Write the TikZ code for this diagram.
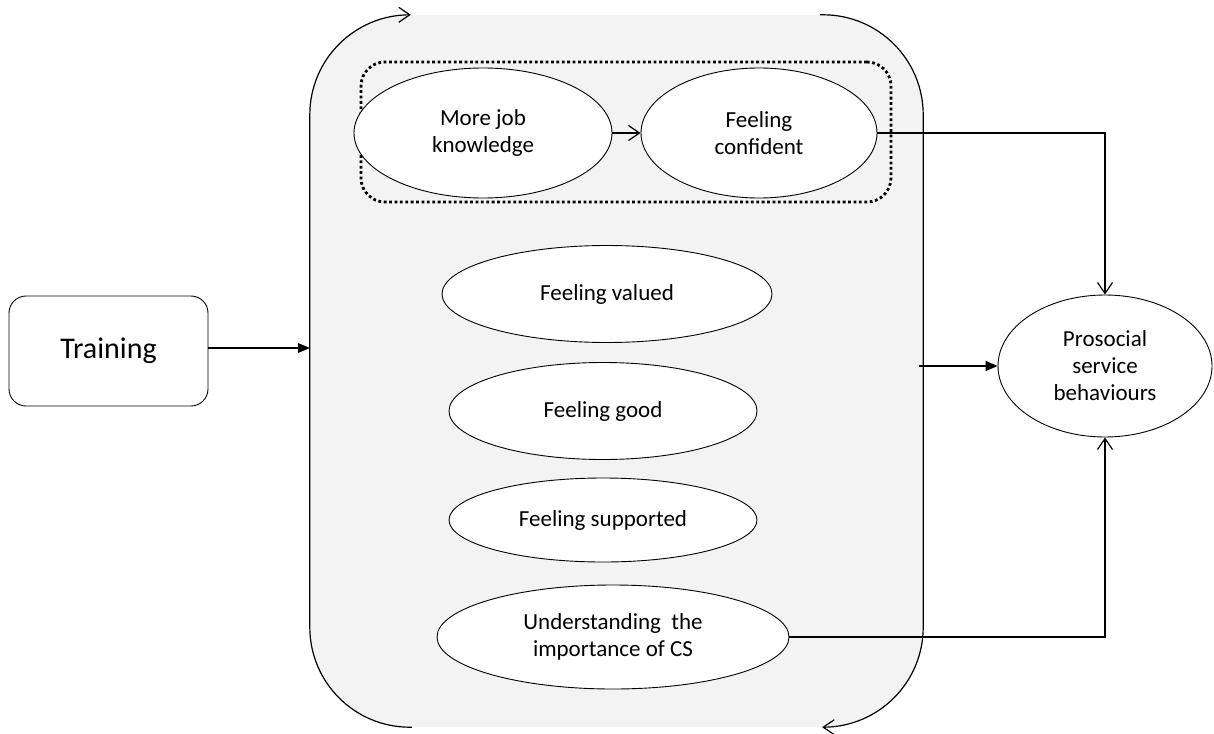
\documentclass[tikz,border=0pt]{standalone}
\usepackage{fontspec}
\setmainfont{Carlito}
\usetikzlibrary{arrows.meta,shapes.geometric}
\definecolor{boxgray}{RGB}{243,243,243}
\tikzset{
  bubble/.style={ellipse, draw=black, fill=white, line width=0.9pt, inner sep=0pt, align=center,
    font=\fontsize{23}{27}\selectfont},
  conn/.style={draw=black, line width=1.2pt},
  openarrow/.style={conn, -{Straight Barb[length=11pt,width=15pt,line width=1.2pt]}},
  fillarrow/.style={conn, -{Triangle[length=12pt,width=10pt]}},
  groupbox/.style={draw=black, line width=2.8pt, dash pattern=on 2.8pt off 2.6pt, rounded corners=24pt, inner sep=0pt},
}
\begin{document}
\begin{tikzpicture}[x=1pt,y=-1pt]
\useasboundingbox (0,0) rectangle (1214,733);
% big container
\node[fill=boxgray, rounded corners=100pt, minimum width=613pt, minimum height=712pt, inner sep=0pt] (big) at (616.5,371) {};
\draw[openarrow, rounded corners=100pt] ([xshift=102pt]big.south west) -| (big.north west) -- ([xshift=101pt]big.north west);
\draw[openarrow, rounded corners=100pt] ([xshift=-103pt]big.north east) -| (big.south east) -- ([xshift=-101pt]big.south east);
% group box
\node[groupbox, minimum width=530pt, minimum height=140pt] (grp) at (626,132) {};
% ellipses
\node[bubble, minimum width=258pt, minimum height=130pt] (mjk) at (483,133) {More job\\knowledge};
\node[bubble, minimum width=236pt, minimum height=130pt] (fc) at (759,133) {Feeling\\confident};
\node[bubble, minimum width=330pt, minimum height=97pt] (fv) at (607,294) {Feeling valued};
\node[bubble, minimum width=308pt, minimum height=97pt] (fg) at (603,411) {Feeling good};
\node[bubble, minimum width=308pt, minimum height=84pt] (fs) at (603,520) {Feeling supported};
\node[bubble, minimum width=352pt, minimum height=104pt] (us) at (613,637) {Understanding~ the\\importance of CS};
\node[bubble, minimum width=214pt, minimum height=142pt] (ps) at (1105,366) {Prosocial\\service\\behaviours};
% training
\node[draw=black, line width=0.9pt, rounded corners=17pt, minimum width=199pt, minimum height=110pt, inner sep=0pt,
  font=\fontsize{30}{36}\selectfont] (tr) at (108.5,351) {Training};
% connectors
\draw[openarrow] (mjk.east) -- (fc.west);
\draw[openarrow] (fc.east) -| (ps.north);
\draw[openarrow] (us.east) -| (ps.south);
\draw[fillarrow] ([yshift=3pt]tr.east) -- ([yshift=3pt]tr.east -| big.west);
\draw[fillarrow] ([xshift=-4pt]ps.west -| big.east) -- (ps.west);
\end{tikzpicture}
\end{document}
